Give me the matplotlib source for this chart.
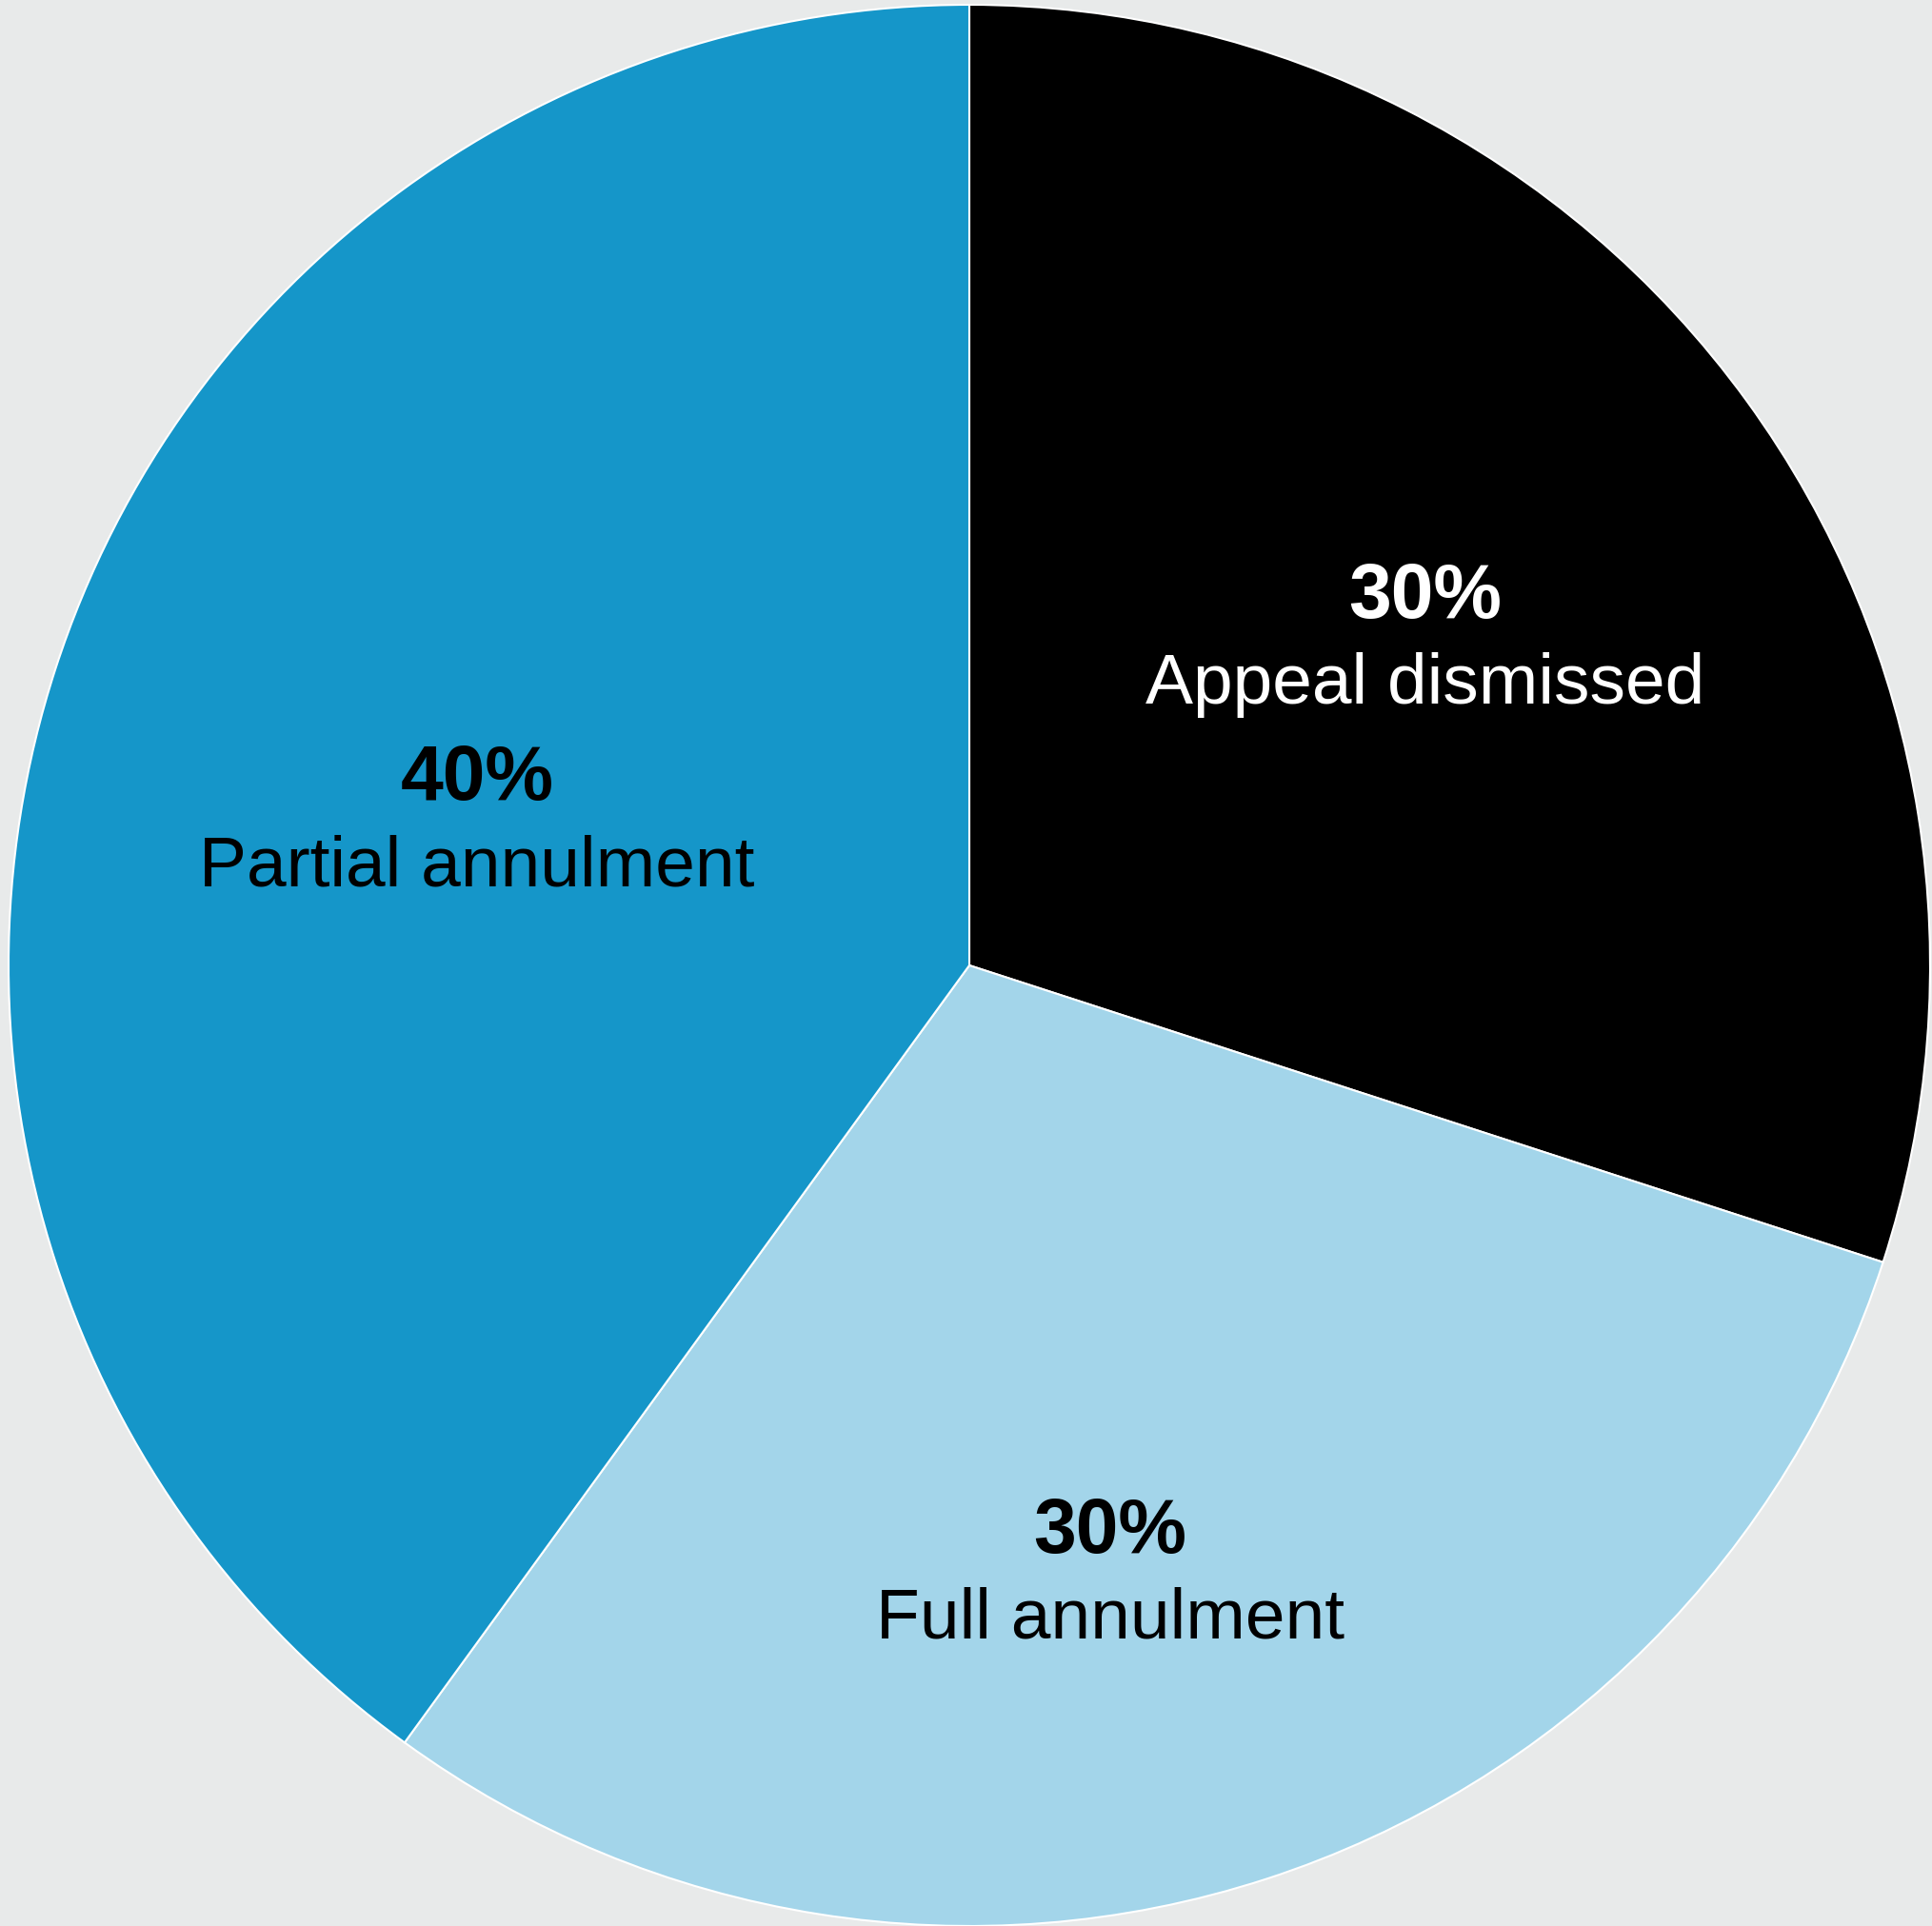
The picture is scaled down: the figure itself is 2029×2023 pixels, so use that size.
import matplotlib
matplotlib.use("Agg")
import matplotlib.pyplot as plt
import numpy as np

labels = ["Appeal dismissed", "Full annulment", "Partial annulment"]
shares = [30, 30, 40]
colors = ["#000000", "#a3d5ea", "#1596c9"]
text_colors = ["white", "black", "black"]

# where the text block sits in each slice (radius, angle in degrees)
text_r = [0.584, 0.65, 0.534]
text_ang = [35.6, -77.0, 163.7]

W, H = 2029, 2023
cx, cy, R = 1018, 2023 - 1014, 1009

fig = plt.figure(figsize=(W / 100, H / 100), dpi=100)
fig.patch.set_facecolor("#e8eaea")
ax = fig.add_axes([0, 0, 1, 1])
ax.set_facecolor("#e8eaea")

ax.pie(shares, colors=colors, startangle=90, counterclock=False, radius=1,
       wedgeprops=dict(edgecolor="white", linewidth=1.5))

ax.set_xlim(-cx / R, (W - cx) / R)
ax.set_ylim(-cy / R, (H - cy) / R)
ax.set_aspect("auto")
ax.axis("off")

font = ["Liberation Sans", "DejaVu Sans"]
for lab, s, tc, r, a in zip(labels, shares, text_colors, text_r, text_ang):
    x = r * np.cos(np.radians(a))
    y = r * np.sin(np.radians(a))
    ax.text(x, y + 0.043, f"{s}%", ha="center", va="center", color=tc,
            fontsize=58, fontweight="bold", family=font)
    ax.text(x, y - 0.048, lab, ha="center", va="center", color=tc,
            fontsize=54, family=font)

fig.savefig("out.png", dpi=100, facecolor=fig.get_facecolor())
